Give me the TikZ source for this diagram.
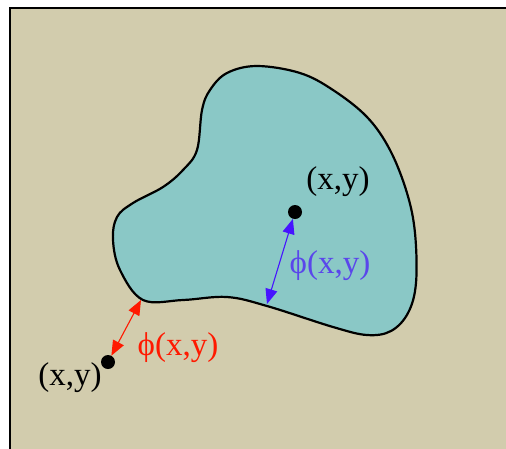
\documentclass[tikz,border=0pt]{standalone}
\usepackage{fontspec}
\setmainfont{Liberation Serif}
\usetikzlibrary{arrows.meta}
\definecolor{bgbeige}{RGB}{210,204,173}
\definecolor{blobteal}{RGB}{138,200,198}
\definecolor{arrred}{RGB}{255,25,0}
\definecolor{arrblue}{RGB}{70,20,255}
\definecolor{txtblue}{RGB}{90,70,235}
\begin{document}
\begin{tikzpicture}[x=1pt,y=-1pt,
  dot/.style={circle,fill=black,inner sep=0pt,minimum size=14pt},
  lbl/.style={inner sep=0pt,font=\fontsize{33}{34}\selectfont},
  dist/.style={{Triangle[length=15pt,width=12pt]}-{Triangle[length=15pt,width=12pt]},line width=1.1pt}]
\useasboundingbox (0,0) rectangle (506,448);
\clip (0,0) rectangle (506,448);
\draw[fill=bgbeige,line width=2pt] (9.5,7.5) rectangle (530,470);
\draw[fill=blobteal,line width=2.2pt] plot[smooth cycle,tension=0.6] coordinates {
 (257,66) (300,73) (333,90) (367,117) (390,150) (407,193) (415,233) (416,283)
 (408,313) (391,331) (367,335) (333,327) (267,306) (227,297) (183,300) (143,300)
 (120,270) (113,240) (117,217) (133,203) (163,187) (183,170) (197,150) (202,110)
 (210,90) (227,73)};
\node[dot] (pin) at (295,212) {};
\node[dot] (pout) at (108,362) {};
\coordinate (bin) at (267,304);
\coordinate (bout) at (141,300);
\draw[dist,arrblue] (pin) -- (bin);
\draw[dist,arrred] (pout) -- (bout);
\node[lbl] (lin) at (338,182) {(x,y)};
\node[lbl] (lout) at (70,378) {(x,y)};
\node[lbl,text=txtblue] (phin) at (330,266) {ϕ(x,y)};
\node[lbl,text=arrred] (phout) at (178,348) {ϕ(x,y)};
\end{tikzpicture}
\end{document}
